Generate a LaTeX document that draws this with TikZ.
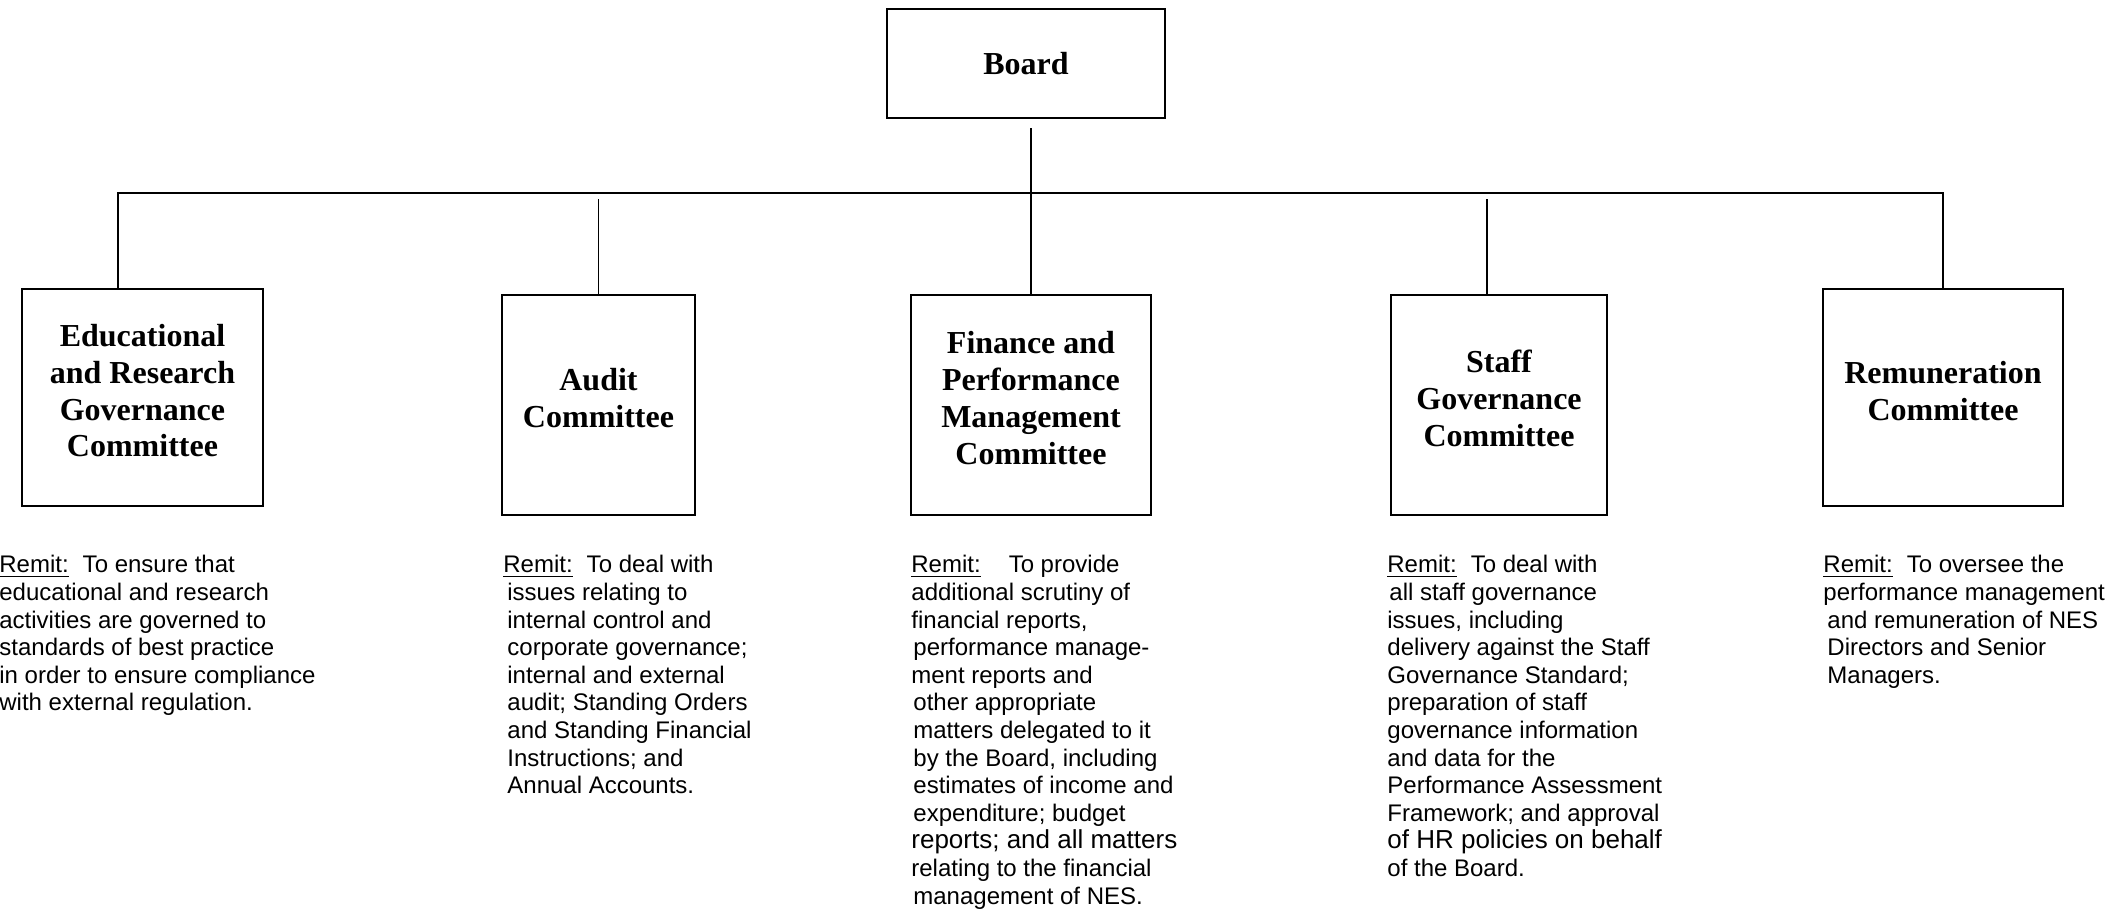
\documentclass[tikz,border=0pt]{standalone}
\usepackage{fontspec}
\setmainfont{Liberation Serif}
\setsansfont{Liberation Sans}
\usepackage{tikz}
\usetikzlibrary{calc}
\tikzset{
  orgBox/.style={rectangle,draw=black,line width=1pt,align=center,inner sep=2pt,
                 font=\fontsize{16}{18.4}\selectfont\bfseries},
  comBox/.style={orgBox,text depth=7pt},
  remitText/.style={anchor=north west,align=left,inner sep=0pt,
                    font=\sffamily\fontsize{12}{13.8}\selectfont},
  linkLine/.style={line width=0.8pt},
}
\newcommand{\remitHead}{\leavevmode\vtop{\hbox{Remit:}\kern1.3pt\hrule height 0.7pt}\hspace{7pt}}

\begin{document}
\begin{tikzpicture}[x=0.5pt,y=-0.5pt]
  \useasboundingbox (0,0) rectangle (2120,912);
  \node[orgBox,minimum width=139pt,minimum height=54.5pt](board) at (1026,63.5){Board};
  \node[comBox,minimum width=120.5pt,minimum height=108.5pt](edu) at (142.5,397.5)
       {Educational\\and Research\\Governance\\Committee};
  \node[comBox,minimum width=96.5pt,minimum height=110pt](audit) at (598.5,405)
       {Audit\\Committee};
  \node[comBox,minimum width=120pt,minimum height=110pt](fin) at (1031,405)
       {Finance and\\Performance\\Management\\Committee};
  \node[comBox,minimum width=108pt,minimum height=110pt](staff) at (1499,405)
       {Staff\\Governance\\Committee};
  \node[comBox,minimum width=120pt,minimum height=108.5pt](rem) at (1943,397.5)
       {Remuneration\\Committee};

  \coordinate (busL) at (118,193);
  \coordinate (busR) at (rem.north |- busL);
  \coordinate (staffTop) at ([xshift=-6pt]staff.north);
  \draw[linkLine] (busL |- edu.north) -- (busL) -- (busR) -- (rem.north);
  \draw[linkLine,shorten <=4.5pt] (fin.north |- board.south) -- (fin.north);
  \foreach \n in {audit.north,staffTop}{\draw[linkLine,shorten <=3pt] (\n |- busL) -- (\n);}

  \node[remitText](eduRemit) at (-1,555){\remitHead To ensure that\\
    educational and research\\activities are governed to\\standards of best practice\\
    in order to ensure compliance\\with external regulation.};
  \node[remitText](auditRemit) at (503,555){\remitHead To deal with\\
    \hspace*{2pt}issues relating to\\\hspace*{2pt}internal control and\\
    \hspace*{2pt}corporate governance;\\\hspace*{2pt}internal and external\\
    \hspace*{2pt}audit; Standing Orders\\\hspace*{2pt}and Standing Financial\\
    \hspace*{2pt}Instructions; and\\\hspace*{2pt}Annual Accounts.};
  \node[remitText](finRemit) at (911,555){\remitHead\hspace{7pt}To provide\\
    additional scrutiny of\\financial reports,\\\hspace*{1pt}performance manage-\\
    ment reports and\\\hspace*{1pt}other appropriate\\\hspace*{1pt}matters delegated to it\\
    \hspace*{1pt}by the Board, including\\\hspace*{1pt}estimates of income and\\
    \hspace*{1pt}expenditure; budget\\{\fontsize{13}{14.5}\selectfont reports; and all matters}\\
    relating to the financial\\\hspace*{1pt}management of NES.};
  \node[remitText](staffRemit) at (1387,555){\remitHead To deal with\\
    \hspace*{1pt}all staff governance\\issues, including\\delivery against the Staff\\
    Governance Standard;\\preparation of staff\\governance information\\and data for the\\
    Performance Assessment\\Framework; and approval\\
    {\fontsize{13}{14.5}\selectfont of HR policies on behalf}\\of the Board.};
  \node[remitText](remRemit) at (1823,555){\remitHead To oversee the\\
    performance management\\\hspace*{2pt}and remuneration of NES\\
    \hspace*{2pt}Directors and Senior\\\hspace*{2pt}Managers.};
\end{tikzpicture}
\end{document}
